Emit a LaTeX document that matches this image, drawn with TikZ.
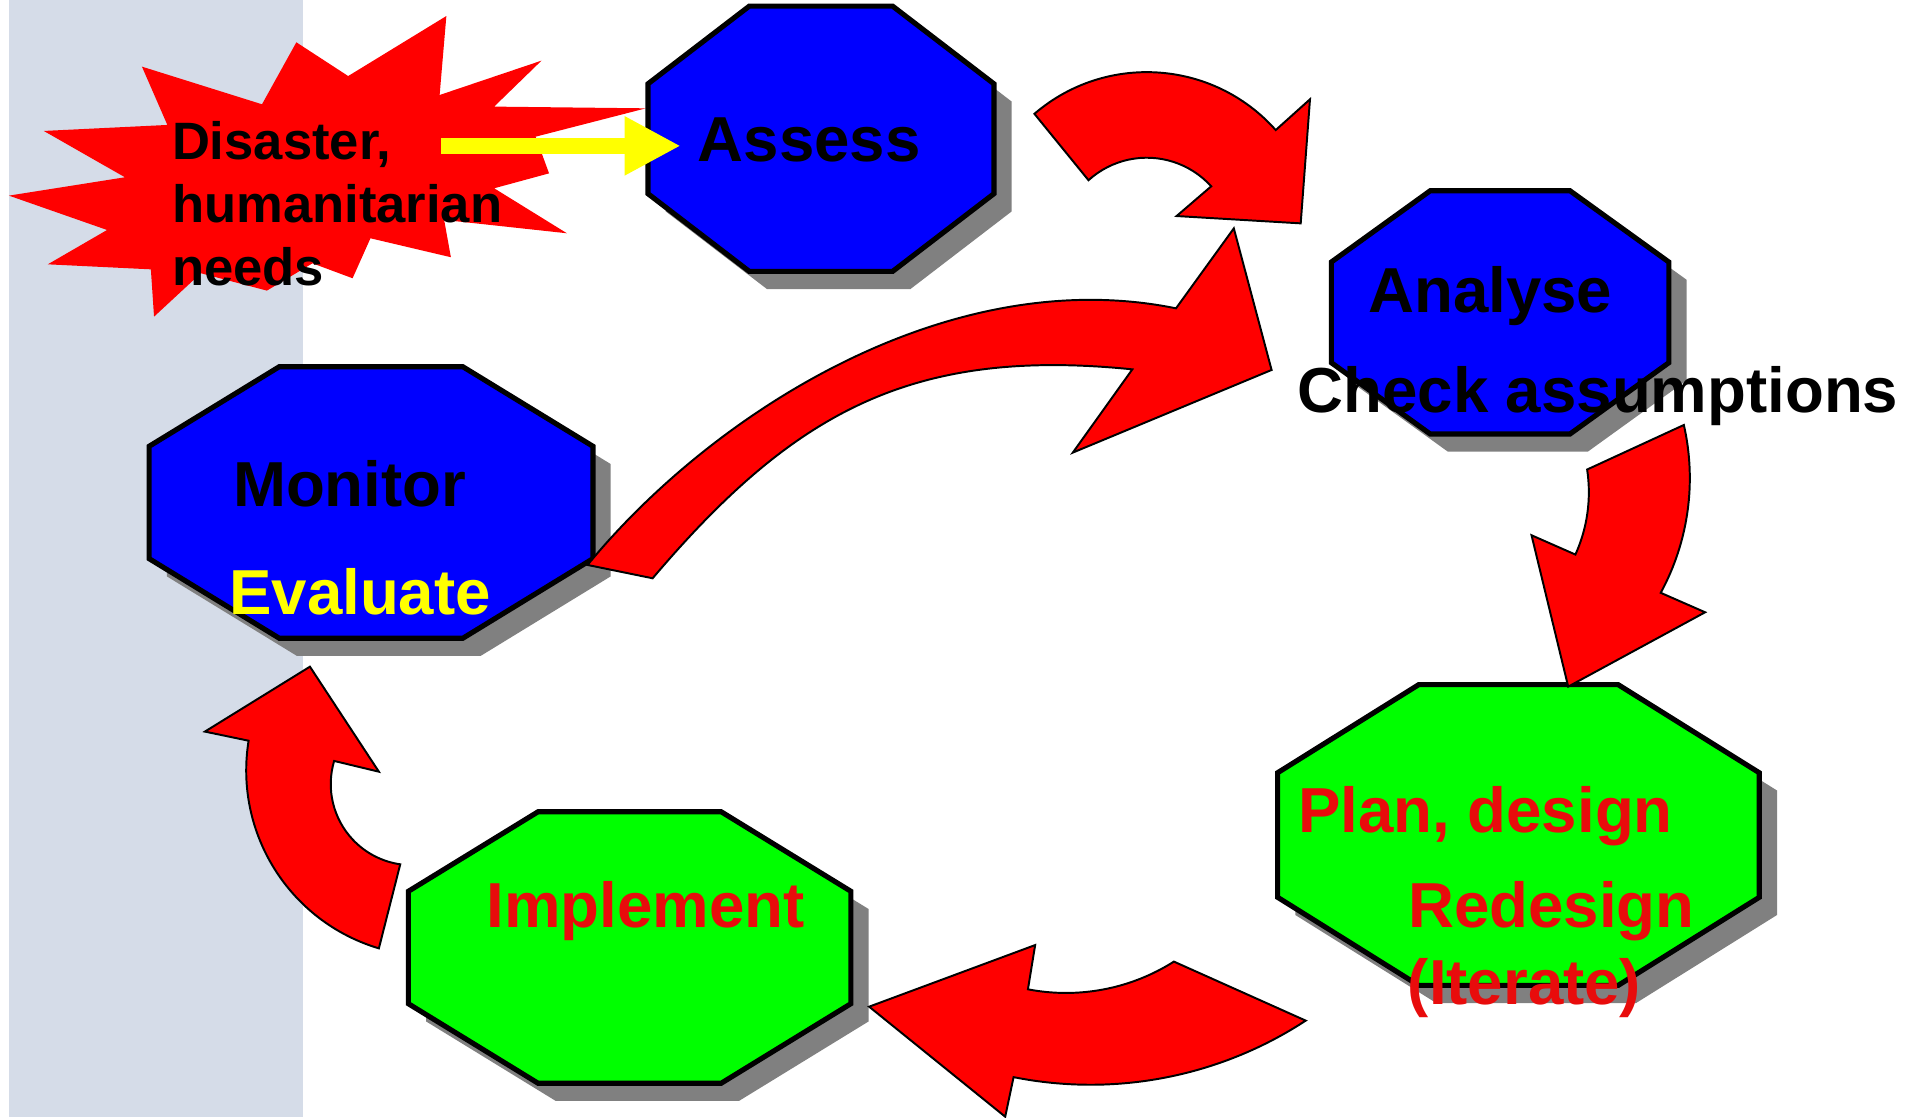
\documentclass[tikz,border=0pt]{standalone}
\usepackage{fontspec}
\setmainfont{Liberation Sans}
\usetikzlibrary{arrows.meta}

\definecolor{bandgray}{RGB}{213,220,232}
\definecolor{boxblue}{RGB}{0,0,255}
\definecolor{boxgreen}{RGB}{0,255,0}
\definecolor{shadowgray}{RGB}{128,128,128}
\definecolor{arrowred}{RGB}{255,0,0}
\definecolor{textred}{RGB}{232,12,12}
\definecolor{flashyellow}{RGB}{255,255,0}

\newcommand{\octagon}[4]{({#1-#3},{#2-.414*#4}) -- ({#1-#3},{#2+.414*#4}) -- ({#1-.414*#3},{#2+#4}) -- ({#1+.414*#3},{#2+#4}) -- ({#1+#3},{#2+.414*#4}) -- ({#1+#3},{#2-.414*#4}) -- ({#1+.414*#3},{#2-#4}) -- ({#1-.414*#3},{#2-#4}) -- cycle}

\begin{document}
\begin{tikzpicture}[
        x=0.1mm,y=-0.1mm,
        bluebox/.style={draw=black, line width=0.42mm, fill=boxblue},
        greenbox/.style={draw=black, line width=0.42mm, fill=boxgreen},
        boxshadow/.style={fill=shadowgray, shift={(14.5,14.5)}},
        redarrow/.style={draw=black, line width=0.16mm, fill=arrowred, line join=miter},
        stagetext/.style={font=\bfseries\fontsize{14.8}{17}\selectfont, anchor=base, inner sep=0pt},
        disastertext/.style={font=\bfseries\fontsize{12.24}{14.74}\selectfont, anchor=base west, align=left, inner sep=0pt},
        flasharrow/.style={draw=flashyellow, line width=1.33mm, -{Triangle[length=4.58mm, width=4.5mm]}},
    ]
    \useasboundingbox (0,0) rectangle (1568,914);
    \fill[white] (0,0) rectangle (1568,914);
    \fill[bandgray] (7,0) rectangle (248,914);

    \fill[arrowred] (365.1,13.1) -- (359.6,77.7) -- (442.9,49.6) -- (404.2,87.2) -- (528.3,88.6) -- (438.1,111.8) -- (449.1,141.8) -- (404.2,154.0) -- (463.7,190.8) -- (363.3,179.9) -- (368.8,210.4) -- (303.0,194.9) -- (288.4,227.6) -- (255.6,215.4) -- (218.3,237.7) -- (164.3,223.5) -- (126.0,259.0) -- (123.4,220.3) -- (39.1,216.2) -- (87.6,188.1) -- (7.3,160.0) -- (102.2,145.0) -- (35.8,107.1) -- (136.9,102.2) -- (116.1,54.5) -- (214.3,85.3) -- (242.4,34.6) -- (284.8,62.2) -- cycle;

    \fill[boxshadow] \octagon{671.5}{113.5}{141.5}{108.5};
    \fill[boxshadow] \octagon{1227}{255.5}{138}{99.5};
    \fill[boxshadow] \octagon{303.5}{411}{181.5}{111};
    \fill[boxshadow] \octagon{515}{775}{181}{111};
    \fill[boxshadow] \octagon{1242}{683}{197}{123};
    \filldraw[bluebox] \octagon{671.5}{113.5}{141.5}{108.5};
    \filldraw[bluebox] \octagon{1227}{255.5}{138}{99.5};
    \filldraw[bluebox] \octagon{303.5}{411}{181.5}{111};
    \filldraw[greenbox] \octagon{515}{775}{181}{111};
    \filldraw[greenbox] \octagon{1242}{683}{197}{123};

    \filldraw[redarrow] (846.1,93.1) arc[start angle=130.7, end angle=41.6, radius=14.1mm] -- (1071.5,81.2) -- (1063.9,182.7) -- (962.4,176.7) -- (990.7,152.4) arc[start angle=42.1, end angle=132.2, radius=7.1mm] -- cycle;
    \filldraw[redarrow] (1377.3,347.6) arc[start angle=12.8, end angle=-28.5, radius=19.65mm] -- (1394.7,500.8) -- (1282.7,561.6) -- (1252.7,437.8) -- (1288.6,453.6) arc[start angle=-24.3, end angle=8.6, radius=12.4mm] -- cycle;
    \filldraw[redarrow] (710.9,823.4) -- (846.7,773) -- (840.8,809.2) arc[start angle=-100.9, end angle=-57.6, radius=16.47mm] -- (1068,834.8) arc[start angle=-56.8, end angle=-101.3, radius=32.14mm] -- (822.2,913.4) -- cycle;
    \filldraw[redarrow] (253.5,545.3) -- (309.9,631.2) -- (273.3,622.4) arc[start angle=-196.6, end angle=-98.2, radius=6.63mm] -- (309.9,775.7) arc[start angle=-106.6, end angle=-189.2, radius=15.19mm] -- (167.6,598.4) -- cycle;
    \filldraw[redarrow] (480.6,462.1) .. controls (582,338.4) and (775.7,214.2) .. (961.9,252.2) -- (1009.2,186.8) -- (1040.1,302.6) -- (877.5,370.2) -- (926.2,302.1) .. controls (746.8,284) and (650,336) .. (533.8,473) -- cycle;

    \coordinate (flash) at (361,119.3);
    \coordinate (assessin) at (556.8,119.3);
    \draw[flasharrow] (flash) -- (assessin);

    \node[disastertext] (disaster) at (140,233.9) {Disaster,\\humanitarian\\needs};
    \node[stagetext] (assess) at (662,132) {Assess};
    \node[stagetext] (analyse) at (1219,256) {Analyse};
    \node[stagetext] (check) at (1307,337.6) {Check assumptions};
    \node[stagetext] (monitor) at (286,414) {Monitor};
    \node[stagetext, text=flashyellow] (evaluate) at (294.5,503) {Evaluate};
    \node[stagetext, text=textred] (implement) at (528,759) {Implement};
    \node[stagetext, text=textred] (plan) at (1215,681) {Plan, design};
    \node[stagetext, text=textred] (redesign) at (1269,759) {Redesign};
    \node[stagetext, text=textred] (iterate) at (1247,822) {(Iterate)};
\end{tikzpicture}
\end{document}
